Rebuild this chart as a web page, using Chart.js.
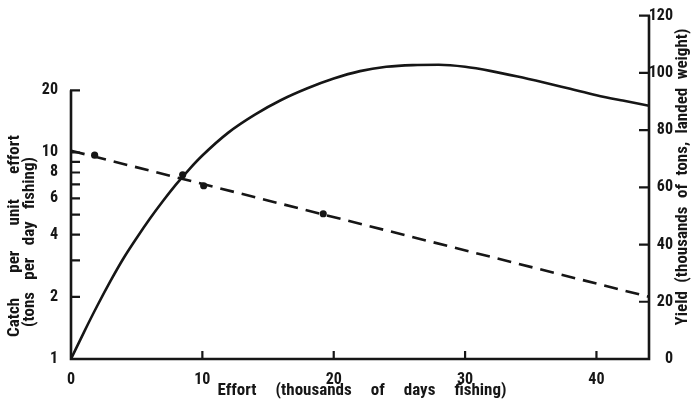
<!DOCTYPE html>
<html><head><meta charset="utf-8">
<script src="https://cdn.jsdelivr.net/npm/chart.js@4.4.1/dist/chart.umd.min.js"></script>
<style>html,body{margin:0;padding:0;background:#fff;}</style>
</head><body>
<canvas id="c" width="694" height="402"></canvas>
<script>
// ---- data ----
const effortYield = [0, 1, 2, 3, 4, 5, 6, 7, 8, 9, 10, 12, 14, 16, 18, 20, 22, 24, 26, 28, 30, 32, 34, 36, 38, 40, 42, 44];
const yieldValues = [0, 9.5, 18.6, 27.2, 35.2, 42.3, 49.0, 55.2, 61.0, 66.3, 71.1, 79.2, 85.4, 90.5, 94.6, 98.0, 100.6, 102.1, 102.7, 102.8, 102.1, 100.6, 98.7, 96.6, 94.4, 92.2, 90.3, 88.5];
const effortObserved = [1.8, 8.5, 10.1, 19.2];
const cpueObserved = [9.7, 7.8, 6.9, 5.05];
const effortFit = [0, 44];
const cpueFit = [10.2, 2.0];
const xTickValues = [0, 10, 20, 30, 40];
const leftTickValues = [1, 2, 3, 4, 5, 6, 7, 8, 9, 10, 20];
const leftTickLabels = [1, 2, 4, 6, 8, 10, 20];
const rightTickValues = [0, 20, 40, 60, 80, 100, 120];
const xTitleWords = ['Effort', '(thousands', 'of', 'days', 'fishing)'];
const leftTitleLine1 = ['Catch', 'per', 'unit', 'effort'];
const leftTitleLine2 = ['(tons', 'per', 'day', 'fishing)'];
const rightTitleWords = ['Yield', '(thousands', 'of', 'tons,', 'landed', 'weight)'];

const INK = '#161616';
const FAMILY = "'Roboto Condensed', 'DejaVu Sans Condensed', sans-serif";
const TITLE_FONT = "bold 17px " + FAMILY;

function justified(ctx, words, cx, cy, len, rot) {
  ctx.save();
  ctx.translate(cx, cy);
  ctx.rotate(rot);
  ctx.font = TITLE_FONT;
  ctx.fillStyle = INK;
  ctx.textBaseline = 'middle';
  ctx.textAlign = 'left';
  const ws = words.map(w => ctx.measureText(w).width);
  const tot = ws.reduce((a, b) => a + b, 0);
  const gap = words.length > 1 ? (len - tot) / (words.length - 1) : 0;
  let x = -len / 2;
  words.forEach((w, i) => { ctx.fillText(w, x, 0); x += ws[i] + gap; });
  ctx.restore();
}

const axesPlugin = {
  id: 'inwardAxes',
  afterDraw(chart) {
    const { ctx, chartArea: a, scales } = chart;
    const sx = scales.x, yl = scales.yL, yr = scales.yR;
    ctx.save();
    ctx.strokeStyle = INK;
    ctx.lineWidth = 2.6;
    ctx.lineJoin = 'miter';
    ctx.beginPath();
    ctx.moveTo(a.left, yl.getPixelForValue(20));
    ctx.lineTo(a.left, a.bottom);
    ctx.lineTo(a.right, a.bottom);
    ctx.lineTo(a.right, a.top);
    ctx.stroke();
    ctx.lineWidth = 2.2;
    ctx.beginPath();
    yl.ticks.forEach(t => {
      if (t.value === 1) return;
      const p = yl.getPixelForValue(t.value);
      ctx.moveTo(a.left - 1, p); ctx.lineTo(a.left + 9, p);
    });
    yr.ticks.forEach(t => {
      if (t.value === 0) return;
      const p = yr.getPixelForValue(t.value);
      ctx.moveTo(a.right + 1, p); ctx.lineTo(a.right - 10, p);
    });
    sx.ticks.forEach(t => {
      if (t.value === 0) return;
      const p = sx.getPixelForValue(t.value);
      ctx.moveTo(p, a.bottom); ctx.lineTo(p, a.bottom - 8);
    });
    ctx.stroke();
    ctx.restore();

    justified(ctx, leftTitleLine1, 14.5, 236, 202, -Math.PI / 2);
    justified(ctx, leftTitleLine2, 30, 242, 170, -Math.PI / 2);
    justified(ctx, rightTitleWords, 683, 177, 297, -Math.PI / 2);
    justified(ctx, xTitleWords, 362, 391, 289, 0);
  }
};

const tickFont = { family: FAMILY, size: 16, weight: 'bold' };

new Chart(document.getElementById('c'), {
  type: 'line',
  data: {
    datasets: [
      {
        label: 'Yield',
        data: effortYield.map((x, i) => ({ x: x, y: yieldValues[i] })),
        yAxisID: 'yR',
        borderColor: INK,
        borderWidth: 2.6,
        pointRadius: 0,
        fill: false,
        cubicInterpolationMode: 'monotone',
        tension: 0.4
      },
      {
        label: 'Catch per unit effort (fit)',
        data: effortFit.map((x, i) => ({ x: x, y: cpueFit[i] })),
        yAxisID: 'yL',
        borderColor: INK,
        borderWidth: 2.6,
        borderDash: [14, 8],
        pointRadius: 0,
        fill: false
      },
      {
        label: 'Catch per unit effort (observed)',
        data: effortObserved.map((x, i) => ({ x: x, y: cpueObserved[i] })),
        yAxisID: 'yL',
        showLine: false,
        pointRadius: 3.6,
        pointBackgroundColor: INK,
        pointBorderColor: INK,
        pointBorderWidth: 0
      }
    ]
  },
  options: {
    responsive: false,
    animation: false,
    layout: { padding: { top: 14, right: 21, left: 0, bottom: 0 } },
    plugins: { legend: { display: false }, tooltip: { enabled: false } },
    scales: {
      x: {
        type: 'linear', position: 'bottom', min: 0, max: 44,
        grid: { display: false }, border: { display: false },
        afterBuildTicks(s) { s.ticks = xTickValues.map(v => ({ value: v })); },
        afterFit(s) { s.height = 43; },
        ticks: { color: INK, font: tickFont, padding: 3, maxRotation: 0, autoSkip: false }
      },
      yL: {
        type: 'logarithmic', position: 'left', min: 1, max: 46,
        grid: { display: false }, border: { display: false },
        afterBuildTicks(s) { s.ticks = leftTickValues.map(v => ({ value: v })); },
        afterFit(s) { s.width = 71; },
        ticks: {
          color: INK, font: tickFont, padding: 5, autoSkip: false,
          callback: v => leftTickLabels.includes(v) ? String(v) : ''
        }
      },
      yR: {
        type: 'linear', position: 'right', min: 0, max: 120,
        grid: { display: false }, border: { display: false },
        afterBuildTicks(s) { s.ticks = rightTickValues.map(v => ({ value: v })); },
        afterFit(s) { s.width = 24; },
        ticks: { color: INK, font: tickFont, padding: 6, crossAlign: 'far', autoSkip: false }
      }
    }
  },
  plugins: [axesPlugin]
});
</script>
</body></html>
